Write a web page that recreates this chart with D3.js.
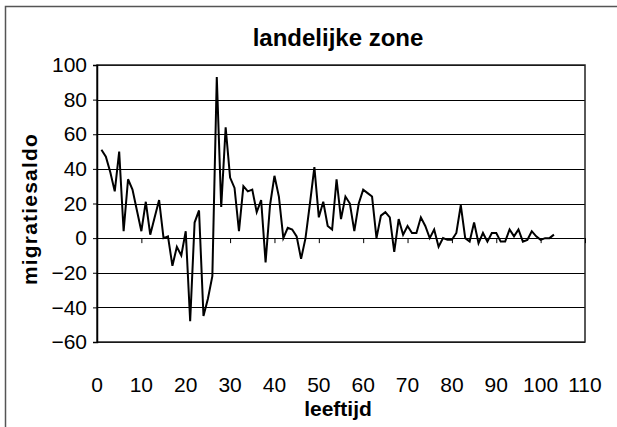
<!DOCTYPE html>
<html>
<head>
<meta charset="utf-8">
<script src="https://cdn.jsdelivr.net/npm/d3@7"></script>
<style>
  body { margin: 0; background: #fff; }
  svg { display: block; font-family: Arial, "Liberation Sans", sans-serif; }
</style>
</head>
<body>
<svg id="chart" width="617" height="427"></svg>
<script>
// leeftijd 1..103
var ages = d3.range(1, 104);
var saldo = [
  51, 47, 38, 27, 50, 4, 34, 28, 16, 4,
  21, 2, 12, 22, 0, 1, -16, -5, -10, 4,
  -48, 9, 16, -45, -35, -22, 93, 18, 64, 35,
  29, 4, 30, 27, 28, 15, 22, -14, 19, 36,
  24, 0, 6, 5, 1, -12, 0, 20, 41, 12,
  21, 7, 5, 34, 11, 24, 20, 4, 20, 28,
  26, 24, 0, 13, 15, 12, -8, 11, 2, 7,
  3, 3, 12, 7, 0, 5, -5, 0, -1, -1,
  3, 19, 0, -2, 9, -3, 3, -2, 3, 3,
  -2, -2, 5, 1, 5, -2, -1, 4, 1, -1,
  0, 0, 2
];
var xTicks = d3.range(0, 111, 10);
var yTicks = d3.range(-60, 101, 20);

var svg = d3.select("#chart");
var plotL = 97, plotR = 585, plotT = 65, plotB = 342;

// outer chart border
svg.append("rect")
  .attr("x", 5.5).attr("y", 6.5)
  .attr("width", 700).attr("height", 500)
  .attr("fill", "none")
  .attr("stroke", "#555")
  .attr("stroke-width", 1.5);

var x = d3.scaleLinear().domain([0, 110]).range([plotL, plotR]);
var y = d3.scaleLinear().domain([-60, 100]).range([plotB, plotT]);

// gridlines
svg.append("g")
  .selectAll("line")
  .data(yTicks)
  .enter()
  .append("line")
    .attr("x1", plotL).attr("x2", plotR)
    .attr("y1", function(d) { return Math.round(y(d)) + 0.5; })
    .attr("y2", function(d) { return Math.round(y(d)) + 0.5; })
    .attr("stroke", "#000")
    .attr("stroke-width", 1);

// plot frame
svg.append("rect")
  .attr("x", plotL).attr("y", plotT)
  .attr("width", plotR - plotL).attr("height", plotB - plotT)
  .attr("fill", "none")
  .attr("stroke", "#222")
  .attr("stroke-width", 1.5);

// Y axis
var yAxis = svg.append("g")
  .attr("transform", "translate(" + plotL + ",0)")
  .call(d3.axisLeft(y).tickValues(yTicks).tickSize(4).tickPadding(6));
yAxis.select(".domain").attr("stroke", "#000").attr("stroke-width", 1.5);
yAxis.selectAll("text").style("font-size", "21px").attr("fill", "#000");

// X axis ticks at the zero line
var xAxis = svg.append("g")
  .attr("transform", "translate(0," + y(0) + ")")
  .call(d3.axisBottom(x).tickValues(xTicks).tickSize(5).tickFormat(""));
xAxis.select(".domain").remove();

// X tick labels at the bottom
svg.append("g")
  .selectAll("text")
  .data(xTicks)
  .enter()
  .append("text")
    .attr("x", function(d) { return x(d); })
    .attr("y", 392)
    .attr("text-anchor", "middle")
    .style("font-size", "21px")
    .text(function(d) { return d; });

// the line
var line = d3.line()
  .x(function(d, i) { return x(ages[i]); })
  .y(function(d) { return y(d); });

svg.append("path")
  .datum(saldo)
  .attr("d", line)
  .attr("fill", "none")
  .attr("stroke", "#000")
  .attr("stroke-width", 2)
  .attr("stroke-linejoin", "miter");

// titles
svg.append("text")
  .attr("x", 338).attr("y", 46)
  .attr("text-anchor", "middle")
  .style("font-size", "24px").style("font-weight", "bold")
  .text("landelijke zone");

svg.append("text")
  .attr("x", 338).attr("y", 416)
  .attr("text-anchor", "middle")
  .style("font-size", "21px").style("font-weight", "bold")
  .text("leeftijd");

svg.append("text")
  .attr("transform", "translate(37,209) rotate(-90)")
  .attr("text-anchor", "middle")
  .style("font-size", "21px").style("font-weight", "bold")
  .style("letter-spacing", "1.2px")
  .text("migratiesaldo");
</script>
</body>
</html>
